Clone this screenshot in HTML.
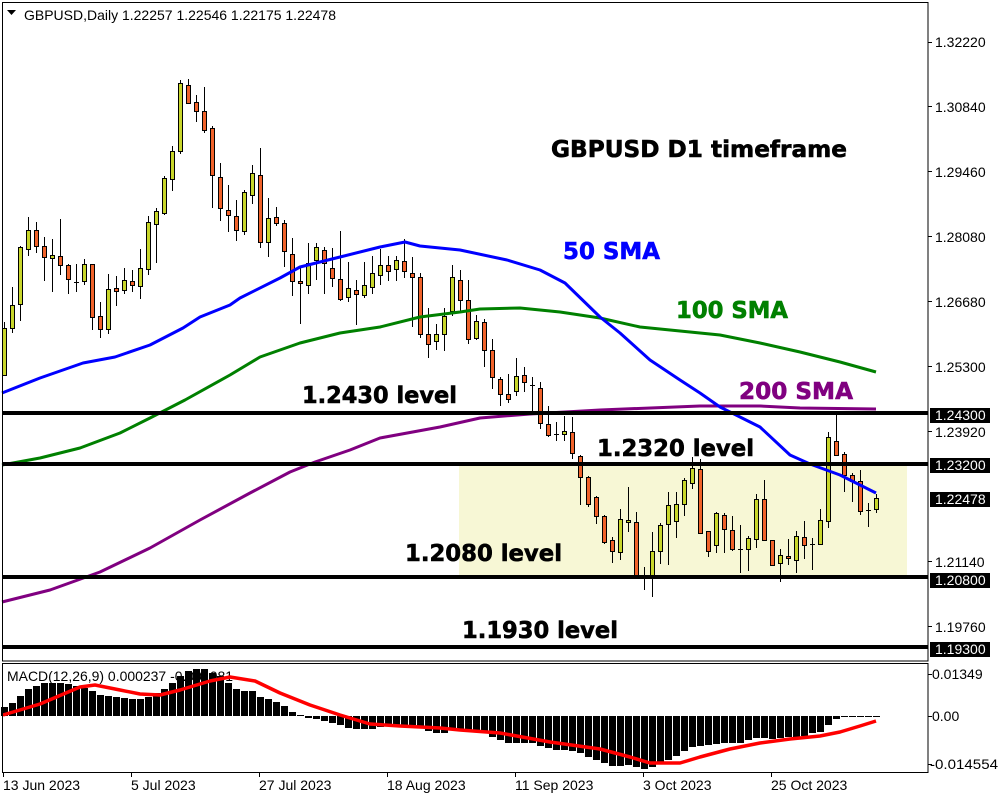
<!DOCTYPE html>
<html><head><meta charset="utf-8"><style>
html,body{margin:0;padding:0;background:#fff;}
svg{display:block;}
.ax{font-family:"Liberation Sans",Arial,sans-serif;font-size:14px;fill:#000;}
.big{font-family:"DejaVu Sans","Liberation Sans",sans-serif;font-weight:bold;font-size:23px;stroke-width:0.6;}
</style></head><body>
<svg width="1000" height="800" viewBox="0 0 1000 800" xmlns="http://www.w3.org/2000/svg">
<rect x="0" y="0" width="1000" height="800" fill="#fff"/>
<!-- yellow zone -->
<rect x="459" y="464" width="448" height="113" fill="#f7f7d5"/>
<!-- candles wicks -->
<path fill="none" stroke="#000" stroke-width="1" d="M4.5 322V375M12.5 287V333M20.5 246V321M28.5 217V256M36.5 222V253M44.5 237V281M52.5 239V292M60.5 219V275M68.5 264V294M76.5 264V292M84.5 259V285M92.5 264V330M100.5 302V338M108.5 274V334M116.5 276V306M124.5 268V294M132.5 270V292M140.5 249V299M148.5 216V275M156.5 208V263M164.5 176V215M172.5 146V191M180.5 80V154M188.5 79V104M196.5 95V122M204.5 87V133M212.5 126V208M220.5 163V221M228.5 185V232M236.5 200V241M244.5 190V235M252.5 165V204M260.5 148V248M268.5 198V257M276.5 207V226M284.5 220V267M292.5 238V296M300.5 268V324M308.5 243V294M316.5 243V280M324.5 247V294M332.5 248V287M340.5 231V301M348.5 262V302M356.5 280V325M364.5 262V298M372.5 256V294M380.5 249V285M388.5 256V281M396.5 256V281M404.5 239V278M412.5 257V327M420.5 273V338M428.5 308V358M436.5 324V350M444.5 308V351M452.5 265V316M460.5 270V311M468.5 280V344M476.5 315V340M484.5 319V367M492.5 339V389M500.5 377V406M508.5 374V403M516.5 358V396M524.5 367V392M532.5 377V411M540.5 382V429M548.5 406V437M556.5 422V441M564.5 416V441M572.5 417V459M580.5 455V505M588.5 476V507M596.5 496V524M604.5 515V544M612.5 537V563M620.5 509V560M628.5 487V532M636.5 512V575M644.5 567V590M652.5 532V597M660.5 523V564M668.5 492V565M676.5 492V538M684.5 478V516M692.5 457V489M700.5 459V534M708.5 531V557M716.5 512V553M724.5 513V553M732.5 516V551M740.5 525V573M748.5 536V571M756.5 494V548M764.5 480V540M772.5 540V565M780.5 549V582M788.5 539V565M796.5 531V573M804.5 521V559M812.5 538V570M820.5 509V544M828.5 432V528M836.5 415V456M844.5 452V492M852.5 473V502M860.5 470V515M868.5 503V527M876.5 494V513"/>
<!-- doji -->
<path fill="none" stroke="#000" stroke-width="1" d="M74 282.5h5M530 385.5h5M554 434.5h5M642 576.5h5M738 549.5h5M810 544.5h5M866 510.5h5"/>
<!-- green bodies -->
<path fill="#c8d62b" stroke="#000" stroke-width="1" d="M2.5 328.5h4v47h-4zM10.5 305.5h4v23h-4zM18.5 247.5h4v57h-4zM26.5 230.5h4v19h-4zM50.5 255.5h4v3h-4zM82.5 264.5h4v17h-4zM106.5 289.5h4v40h-4zM122.5 280.5h4v10h-4zM138.5 268.5h4v18h-4zM146.5 222.5h4v47h-4zM154.5 211.5h4v13h-4zM162.5 178.5h4v35h-4zM170.5 151.5h4v28h-4zM178.5 83.5h4v68h-4zM242.5 192.5h4v39h-4zM250.5 173.5h4v22h-4zM266.5 218.5h4v24h-4zM306.5 263.5h4v22h-4zM314.5 247.5h4v13h-4zM346.5 288.5h4v9h-4zM362.5 285.5h4v10h-4zM370.5 273.5h4v14h-4zM378.5 265.5h4v10h-4zM394.5 260.5h4v9h-4zM434.5 334.5h4v7h-4zM442.5 316.5h4v18h-4zM450.5 277.5h4v34h-4zM474.5 321.5h4v17h-4zM514.5 376.5h4v15h-4zM562.5 431.5h4v3h-4zM618.5 519.5h4v33h-4zM626.5 520.5h4v2h-4zM650.5 551.5h4v24h-4zM658.5 525.5h4v26h-4zM666.5 505.5h4v19h-4zM674.5 504.5h4v17h-4zM682.5 480.5h4v24h-4zM690.5 468.5h4v15h-4zM714.5 513.5h4v32h-4zM746.5 538.5h4v11h-4zM754.5 499.5h4v40h-4zM778.5 555.5h4v8h-4zM794.5 536.5h4v24h-4zM818.5 520.5h4v24h-4zM826.5 437.5h4v84h-4zM874.5 498.5h4v11h-4z"/>
<!-- red bodies -->
<path fill="#f0622a" stroke="#000" stroke-width="1" d="M34.5 230.5h4v16h-4zM42.5 246.5h4v11h-4zM58.5 256.5h4v9h-4zM66.5 265.5h4v14h-4zM90.5 264.5h4v53h-4zM98.5 316.5h4v13h-4zM114.5 288.5h4v3h-4zM130.5 281.5h4v4h-4zM186.5 85.5h4v18h-4zM194.5 102.5h4v9h-4zM202.5 111.5h4v19h-4zM210.5 128.5h4v47h-4zM218.5 177.5h4v31h-4zM226.5 210.5h4v5h-4zM234.5 216.5h4v14h-4zM258.5 175.5h4v67h-4zM274.5 217.5h4v6h-4zM282.5 223.5h4v28h-4zM290.5 254.5h4v27h-4zM298.5 281.5h4v2h-4zM322.5 250.5h4v13h-4zM330.5 268.5h4v10h-4zM338.5 279.5h4v20h-4zM354.5 290.5h4v4h-4zM386.5 265.5h4v6h-4zM402.5 261.5h4v10h-4zM410.5 273.5h4v4h-4zM418.5 277.5h4v57h-4zM426.5 334.5h4v10h-4zM458.5 280.5h4v20h-4zM466.5 300.5h4v39h-4zM482.5 322.5h4v28h-4zM490.5 350.5h4v27h-4zM498.5 379.5h4v15h-4zM506.5 394.5h4v5h-4zM522.5 375.5h4v7h-4zM538.5 388.5h4v35h-4zM546.5 424.5h4v11h-4zM570.5 432.5h4v21h-4zM578.5 456.5h4v21h-4zM586.5 477.5h4v27h-4zM594.5 497.5h4v19h-4zM602.5 516.5h4v26h-4zM610.5 540.5h4v11h-4zM634.5 522.5h4v53h-4zM698.5 469.5h4v64h-4zM706.5 531.5h4v20h-4zM722.5 515.5h4v14h-4zM730.5 530.5h4v19h-4zM762.5 499.5h4v41h-4zM770.5 540.5h4v25h-4zM786.5 556.5h4v2h-4zM802.5 537.5h4v8h-4zM834.5 441.5h4v14h-4zM842.5 454.5h4v21h-4zM850.5 475.5h4v6h-4zM858.5 481.5h4v30h-4z"/>
<!-- SMAs -->
<polyline fill="none" stroke="#800080" stroke-width="3" stroke-linejoin="round" points="2,602 50,590 100,572 150,548 200,520 250,493 290,472 315,462 350,450 380,438 440,427 480,418 530,414 600,410 700,406 760,406 800,408 876,409"/>
<polyline fill="none" stroke="#008000" stroke-width="3" stroke-linejoin="round" points="2,465 40,458 80,448 120,433 150,418 185,400 230,375 260,357 300,343 340,333 380,327 420,317 460,312 480,309 520,308 560,312 600,318 640,327 680,331 720,335 760,343 800,352 840,362 876,372"/>
<polyline fill="none" stroke="#0000ff" stroke-width="3" stroke-linejoin="round" points="2,393 40,378 83,363 115,357 150,345 183,328 200,317 230,305 240,298 280,278 300,267 340,257 380,247 405,242 420,246 440,248 460,250 507,260 540,270 565,283 600,317 620,333 650,360 680,380 700,393 720,407 760,427 790,455 810,464 840,475 876,493"/>
<!-- level lines -->
<rect x="2" y="411" width="926" height="4" fill="#000"/>
<rect x="2" y="462" width="926" height="4" fill="#000"/>
<rect x="2" y="575" width="926" height="4" fill="#000"/>
<rect x="2" y="645" width="926" height="4" fill="#000"/>
<!-- big labels -->
<text class="big" x="551" y="157" textLength="296" lengthAdjust="spacingAndGlyphs" fill="#000" stroke="#000">GBPUSD D1 timeframe</text>
<text class="big" x="563" y="259" textLength="97" lengthAdjust="spacingAndGlyphs" fill="#0000ff" stroke="#0000ff">50 SMA</text>
<text class="big" x="676" y="318" textLength="112" lengthAdjust="spacingAndGlyphs" fill="#008000" stroke="#008000">100 SMA</text>
<text class="big" x="739" y="399" textLength="114" lengthAdjust="spacingAndGlyphs" fill="#800080" stroke="#800080">200 SMA</text>
<text class="big" x="302" y="403" textLength="155" lengthAdjust="spacingAndGlyphs" fill="#000" stroke="#000">1.2430 level</text>
<text class="big" x="597" y="456" textLength="157" lengthAdjust="spacingAndGlyphs" fill="#000" stroke="#000">1.2320 level</text>
<text class="big" x="405" y="561" textLength="157" lengthAdjust="spacingAndGlyphs" fill="#000" stroke="#000">1.2080 level</text>
<text class="big" x="462" y="638" textLength="156" lengthAdjust="spacingAndGlyphs" fill="#000" stroke="#000">1.1930 level</text>
<!-- header -->
<path d="M7 10h9l-4.5 5z" fill="#000"/>
<text class="ax" x="24" y="20" textLength="312" lengthAdjust="spacingAndGlyphs">GBPUSD,Daily  1.22257 1.22546 1.22175 1.22478</text>
<!-- MACD label (under bars) -->
<text class="ax" x="7" y="681" textLength="226" lengthAdjust="spacingAndGlyphs">MACD(12,26,9) 0.000237 -0.001081</text>
<!-- MACD histogram -->
<path fill="#000" d="M1 707h7V716h-7zM9 703h7V716h-7zM17 696h7V716h-7zM25 689h7V716h-7zM33 686h7V716h-7zM41 683h7V716h-7zM49 683h7V716h-7zM57 683h7V716h-7zM65 684h7V716h-7zM73 686h7V716h-7zM81 688h7V716h-7zM89 691h7V716h-7zM97 695h7V716h-7zM105 696h7V716h-7zM113 697h7V716h-7zM121 698h7V716h-7zM129 699h7V716h-7zM137 699h7V716h-7zM145 697h7V716h-7zM153 693h7V716h-7zM161 689h7V716h-7zM169 683h7V716h-7zM177 676h7V716h-7zM185 671h7V716h-7zM193 669h7V716h-7zM201 669h7V716h-7zM209 673h7V716h-7zM217 676h7V716h-7zM225 683h7V716h-7zM233 689h7V716h-7zM241 691h7V716h-7zM249 691h7V716h-7zM257 697h7V716h-7zM265 699h7V716h-7zM273 702h7V716h-7zM281 706h7V716h-7zM289 712h7V716h-7zM297 715h7V716h-7z
M305 716h7V718h-7zM313 716h7V719h-7zM321 716h7V721h-7zM329 716h7V723h-7zM337 716h7V725h-7zM345 716h7V728h-7zM353 716h7V729h-7zM361 716h7V729h-7zM369 716h7V729h-7zM377 716h7V727h-7zM385 716h7V726h-7zM393 716h7V725h-7zM401 716h7V725h-7zM409 716h7V725h-7zM417 716h7V727h-7zM425 716h7V731h-7zM433 716h7V733h-7zM441 716h7V733h-7zM449 716h7V730h-7zM457 716h7V730h-7zM465 716h7V732h-7zM473 716h7V732h-7zM481 716h7V733h-7zM489 716h7V737h-7zM497 716h7V740h-7zM505 716h7V743h-7zM513 716h7V743h-7zM521 716h7V743h-7zM529 716h7V743h-7zM537 716h7V746h-7zM545 716h7V748h-7zM553 716h7V750h-7zM561 716h7V750h-7zM569 716h7V751h-7zM577 716h7V753h-7zM585 716h7V757h-7zM593 716h7V760h-7zM601 716h7V763h-7zM609 716h7V766h-7zM617 716h7V766h-7zM625 716h7V765h-7zM633 716h7V767h-7zM641 716h7V769h-7zM649 716h7V767h-7zM657 716h7V762h-7zM665 716h7V760h-7zM673 716h7V756h-7zM681 716h7V751h-7zM689 716h7V747h-7zM697 716h7V746h-7zM705 716h7V745h-7zM713 716h7V744h-7zM721 716h7V743h-7zM729 716h7V743h-7zM737 716h7V743h-7zM745 716h7V740h-7zM753 716h7V738h-7zM761 716h7V738h-7zM769 716h7V739h-7zM777 716h7V738h-7zM785 716h7V737h-7zM793 716h7V737h-7zM801 716h7V736h-7zM809 716h7V733h-7zM817 716h7V732h-7zM825 716h7V725h-7zM833 716h7V719h-7zM841 716h7V717h-7zM849 716h7V717h-7zM857 716h7V717h-7zM865 716h7V717h-7zM873 716h7V717h-7z"/>
<!-- MACD signal -->
<polyline fill="none" stroke="#ff0000" stroke-width="3.5" stroke-linejoin="round" points="3,715 40,704 80,687 95,685 120,690 140,694 160,695 180,690 210,681 230,677 255,681 280,693 310,705 340,715 370,724 400,726 440,728 460,730 500,733 550,742 600,749 630,757 650,763 680,763 700,757 730,749 760,743 790,739 820,736 840,732 860,726 876,721"/>
<!-- frames -->
<rect x="2.5" y="2.5" width="925.5" height="658.5" fill="none" stroke="#000" stroke-width="1"/>
<rect x="2.5" y="663.5" width="925.5" height="109" fill="none" stroke="#000" stroke-width="1"/>
<!-- right axis ticks -->
<path stroke="#000" stroke-width="1" d="M928 42.5h4M928 106.5h4M928 171.5h4M928 236.5h4M928 301.5h4M928 366.5h4M928 431.5h4M928 561.5h4M928 626.5h4M928 674.5h4M928 716.5h4M928 764.5h4"/>
<g class="ax">
<text x="935" y="47">1.32220</text>
<text x="935" y="112">1.30840</text>
<text x="935" y="177">1.29460</text>
<text x="935" y="242">1.28080</text>
<text x="935" y="307">1.26680</text>
<text x="935" y="372">1.25300</text>
<text x="935" y="437">1.23920</text>
<text x="935" y="567">1.21140</text>
<text x="935" y="632">1.19760</text>
<text x="932" y="679">0.01349</text>
<text x="932" y="721">0.00</text>
<text x="930" y="769" textLength="68" lengthAdjust="spacingAndGlyphs">-0.014554</text>
</g>
<!-- highlighted price boxes -->
<rect x="930" y="408" width="60" height="15" fill="#000"/>
<rect x="930" y="458" width="60" height="15" fill="#000"/>
<rect x="930" y="492" width="60" height="15" fill="#000"/>
<rect x="930" y="573" width="60" height="15" fill="#000"/>
<rect x="930" y="642" width="60" height="15" fill="#000"/>
<g class="ax" style="fill:#fff">
<text x="935" y="420">1.24300</text>
<text x="935" y="470">1.23200</text>
<text x="935" y="504">1.22478</text>
<text x="935" y="585">1.20800</text>
<text x="935" y="654">1.19300</text>
</g>
<!-- bottom axis -->
<path stroke="#000" stroke-width="1" d="M3.5 773v4M131.5 773v4M259.5 773v4M387.5 773v4M515.5 773v4M643.5 773v4M771.5 773v4"/>
<g class="ax">
<text x="3" y="790">13 Jun 2023</text>
<text x="131" y="790">5 Jul 2023</text>
<text x="259" y="790">27 Jul 2023</text>
<text x="387" y="790">18 Aug 2023</text>
<text x="515" y="790">11 Sep 2023</text>
<text x="643" y="790">3 Oct 2023</text>
<text x="771" y="790">25 Oct 2023</text>
</g>
</svg>
</body></html>
